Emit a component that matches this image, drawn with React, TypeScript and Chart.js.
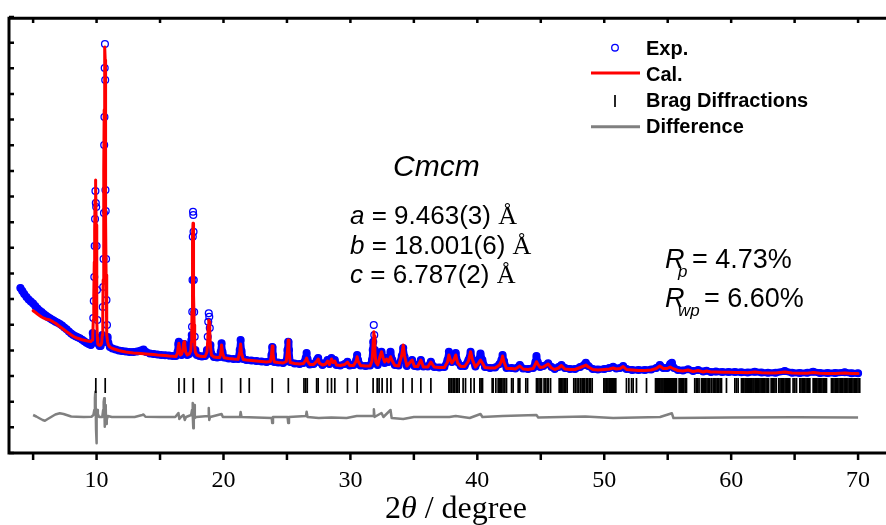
import React, { useEffect, useRef } from 'react';
import { Chart, registerables } from 'chart.js';

Chart.register(...registerables);

// ---------- data (2θ in degrees, intensity in counts) ----------
const twoTheta = [
  4.00, 4.15, 4.30, 4.48, 4.65, 4.82, 5.00, 5.17, 5.34, 5.50,
  5.67, 5.84, 6.00, 6.16, 6.32, 6.47, 6.62, 6.77, 6.94, 7.11,
  7.28, 7.46, 7.64, 7.82, 8.00, 8.16, 8.34, 8.51, 8.68, 8.86,
  9.03, 9.20, 9.38, 9.55, 9.65, 9.70, 9.74, 9.78, 9.82, 9.85,
  9.88, 9.91, 9.94, 9.97, 10.00, 10.03, 10.06, 10.10, 10.16, 10.24,
  10.32, 10.40, 10.45, 10.49, 10.52, 10.55, 10.58, 10.60, 10.62, 10.64,
  10.66, 10.68, 10.70, 10.72, 10.75, 10.78, 10.82, 10.87, 10.93, 11.05,
  11.25, 11.50, 11.75, 12.00, 12.30, 12.60, 12.90, 13.20, 13.50, 13.70,
  13.90, 14.20, 14.50, 14.80, 15.10, 15.40, 15.70, 16.00, 16.25, 16.38,
  16.44, 16.48, 16.53, 16.60, 16.70, 16.80, 16.86, 16.90, 16.95, 17.02,
  17.15, 17.30, 17.42, 17.47, 17.50, 17.52, 17.54, 17.56, 17.58, 17.60,
  17.62, 17.64, 17.66, 17.69, 17.73, 17.78, 17.90, 18.10, 18.30, 18.55,
  18.70, 18.76, 18.80, 18.84, 18.88, 18.92, 18.97, 19.05, 19.25, 19.50,
  19.70, 19.78, 19.85, 19.92, 20.05, 20.40, 20.80, 21.15, 21.28, 21.35,
  21.42, 21.55, 21.80, 22.20, 22.60, 23.00, 23.40, 23.70, 23.78, 23.84,
  23.90, 24.00, 24.30, 24.70, 24.95, 25.04, 25.10, 25.16, 25.25, 25.60,
  26.00, 26.30, 26.48, 26.55, 26.62, 26.80, 27.10, 27.36, 27.46, 27.55,
  27.80, 28.05, 28.20, 28.35, 28.51, 28.64, 28.77, 28.90, 29.20, 29.55,
  29.77, 29.95, 30.25, 30.46, 30.53, 30.60, 30.80, 31.20, 31.55, 31.70,
  31.76, 31.80, 31.84, 31.88, 31.93, 32.00, 32.15, 32.30, 32.45, 32.58,
  32.70, 32.85, 33.00, 33.16, 33.30, 33.50, 33.80, 34.05, 34.16, 34.27,
  34.45, 34.86, 35.05, 35.30, 35.55, 35.75, 36.10, 36.34, 36.60, 37.00,
  37.40, 37.65, 37.76, 37.88, 38.00, 38.15, 38.30, 38.45, 38.70, 39.00,
  39.30, 39.47, 39.62, 39.85, 40.05, 40.25, 40.40, 40.60, 41.00, 41.40,
  41.75, 41.90, 41.99, 42.10, 42.30, 42.70, 43.00, 43.35, 43.60, 44.00,
  44.40, 44.58, 44.66, 44.76, 44.95, 45.20, 45.58, 45.85, 46.10, 46.40,
  46.63, 46.90, 47.30, 47.70, 48.10, 48.40, 48.55, 48.75, 49.10, 49.50,
  50.00, 50.40, 50.70, 50.95, 51.25, 51.49, 51.75, 52.20, 52.70, 53.20,
  53.70, 54.10, 54.38, 54.65, 54.95, 55.20, 55.33, 55.50, 55.80, 56.20,
  56.60, 57.00, 57.40, 57.80, 58.06, 58.40, 58.80, 59.30, 59.80, 60.30,
  60.80, 61.30, 61.86, 62.40, 62.90, 63.50, 64.23, 64.80, 65.40, 66.00,
  66.46, 67.00, 67.60, 68.20, 68.95, 69.50, 70.00,
];

const yObs = [
  1650, 1620, 1590, 1560, 1535, 1515, 1495, 1470, 1445, 1425,
  1410, 1390, 1375, 1360, 1347, 1335, 1325, 1313, 1302, 1290,
  1275, 1255, 1237, 1215, 1195, 1180, 1167, 1157, 1147, 1133,
  1118, 1103, 1090, 1080, 1100, 1200, 1350, 1520, 1760, 2070,
  2340, 2620, 2500, 2460, 2070, 1630, 1330, 1150, 1090, 1070,
  1070, 1100, 1180, 1460, 1660, 1940, 2400, 3080, 3360, 3850,
  4090, 3730, 2630, 2420, 1940, 1530, 1280, 1160, 1100, 1060,
  1045, 1035, 1025, 1020, 1015, 1010, 1010, 1015, 1025, 1035,
  1010, 995, 990, 985, 980, 977, 974, 970, 970, 1010,
  1090, 1113, 1070, 1000, 980, 1020, 1080, 1090, 1050, 990,
  980, 990, 1030, 1130, 1180, 1263, 1413, 1730, 2163, 2413,
  2380, 2213, 1730, 1410, 1163, 1030, 980, 970, 965, 970,
  1030, 1163, 1313, 1397, 1363, 1250, 1080, 990, 960, 955,
  960, 1010, 1097, 1010, 955, 945, 940, 940, 1030, 1130,
  1020, 940, 930, 925, 920, 915, 910, 920, 980, 1060,
  980, 910, 905, 900, 920, 1030, 1113, 1030, 910, 895,
  890, 900, 950, 1000, 940, 885, 890, 930, 950, 910,
  880, 900, 930, 890, 950, 910, 930, 880, 875, 890,
  913, 875, 880, 930, 980, 930, 875, 870, 875, 930,
  1030, 1113, 1280, 1180, 1030, 910, 880, 950, 1013, 950,
  900, 950, 910, 1013, 930, 880, 875, 970, 1050, 960,
  870, 930, 870, 865, 930, 865, 865, 913, 860, 855,
  860, 930, 1013, 950, 910, 950, 1000, 910, 870, 870,
  930, 1013, 930, 865, 910, 995, 930, 860, 850, 855,
  890, 930, 980, 920, 850, 850, 845, 880, 845, 840,
  850, 910, 970, 910, 860, 870, 897, 860, 840, 860,
  880, 850, 840, 840, 860, 880, 903, 870, 840, 835,
  840, 850, 863, 845, 850, 870, 840, 830, 830, 830,
  835, 850, 880, 850, 850, 890, 903, 850, 830, 825,
  837, 820, 830, 815, 823, 810, 815, 810, 810, 810,
  807, 805, 813, 805, 803, 802, 820, 802, 800, 802,
  813, 800, 800, 800, 807, 798, 797,
];

const yCalc = [
  null, null, null, null, null, null, 1423, 1407, 1390, 1375,
  1360, 1348, 1340, 1335, 1330, 1320, 1308, 1297, 1280, 1263,
  1247, 1230, 1213, 1197, 1180, 1167, 1155, 1147, 1140, 1133,
  1128, 1123, 1118, 1114, 1130, 1170, 1330, 1570, 1910, 2230,
  2530, 2730, 2680, 2280, 1730, 1330, 1150, 1090, 1080, 1075,
  1080, 1100, 1180, 1430, 1730, 2230, 2830, 3430, 3830, 4030,
  4060, 3930, 3030, 2330, 1780, 1380, 1180, 1110, 1080, 1060,
  1045, 1035, 1025, 1018, 1010, 1005, 1000, 997, 994, 992,
  990, 987, 984, 980, 977, 974, 970, 967, 965, 1000,
  1070, 1097, 1050, 980, 990, 1030, 1100, 1113, 1080, 1010,
  980, 990, 1020, 1110, 1230, 1410, 1630, 1930, 2180, 2297,
  2270, 1930, 1580, 1280, 1080, 1010, 980, 970, 965, 965,
  1010, 1130, 1270, 1330, 1310, 1210, 1070, 980, 960, 955,
  955, 990, 1080, 1000, 952, 945, 940, 937, 1010, 1090,
  1000, 935, 930, 925, 920, 915, 910, 915, 980, 1070,
  990, 910, 905, 900, 915, 1020, 1130, 1030, 905, 895,
  890, 895, 930, 950, 920, 885, 885, 920, 940, 900,
  880, 890, 920, 885, 940, 905, 920, 880, 875, 885,
  910, 875, 875, 920, 963, 920, 875, 870, 870, 920,
  1010, 1130, 1213, 1170, 1010, 910, 880, 950, 1013, 950,
  910, 940, 910, 963, 920, 875, 870, 980, 1080, 970,
  870, 930, 865, 865, 930, 860, 860, 910, 860, 855,
  855, 910, 980, 930, 900, 930, 980, 900, 865, 865,
  920, 1013, 930, 860, 890, 930, 900, 855, 850, 850,
  880, 920, 970, 910, 845, 845, 840, 870, 840, 835,
  845, 890, 913, 890, 855, 860, 890, 850, 835, 850,
  875, 840, 835, 835, 855, 870, 880, 860, 835, 830,
  835, 840, 850, 840, 845, 865, 835, 830, 825, 825,
  830, 845, 870, 845, 845, 860, 850, 840, 825, 820,
  830, 815, 825, 810, 820, 810, 810, 807, 807, 805,
  804, 802, 810, 802, 800, 800, 810, 800, 798, 798,
  805, 797, 796, 796, 800, 795, 795,
];

const diffTheta = [
  5.00, 5.25, 5.53, 5.75, 5.93, 6.15, 6.45, 6.75, 7.10, 7.40,
  7.64, 8.00, 8.42, 9.00, 9.60, 9.75, 9.82, 9.87, 9.90, 9.93,
  9.96, 9.98, 10.00, 10.03, 10.06, 10.10, 10.20, 10.45, 10.52, 10.56,
  10.60, 10.63, 10.66, 10.69, 10.72, 10.75, 10.80, 10.88, 11.20, 12.00,
  13.00, 13.60, 13.70, 13.85, 15.00, 16.20, 16.45, 16.52, 16.65, 16.85,
  16.95, 17.05, 17.45, 17.52, 17.56, 17.59, 17.62, 17.66, 17.70, 17.74,
  17.85, 18.80, 18.84, 18.88, 18.95, 19.85, 19.95, 21.30, 21.35, 21.42,
  23.80, 23.84, 23.90, 25.05, 25.10, 25.16, 26.50, 26.55, 26.62, 27.50,
  28.50, 29.70, 30.50, 31.80, 31.85, 31.90, 32.45, 32.60, 33.16, 33.25,
  34.16, 35.00, 37.80, 38.30, 39.40, 40.25, 40.40, 42.00, 44.66, 44.80,
  48.50, 50.70, 54.40, 55.33, 55.45, 60.00, 65.00, 70.00,
];

const yDiff = [
  380, 365, 345, 330, 323, 340, 363, 385, 397, 390,
  380, 365, 363, 360, 363, 380, 430, 550, 613, 480,
  230, 97, 180, 350, 430, 390, 360, 360, 430, 510,
  547, 430, 263, 410, 480, 290, 330, 370, 360, 360,
  360, 380, 385, 363, 360, 360, 400, 340, 360, 380,
  330, 360, 380, 430, 500, 380, 247, 330, 480, 350,
  360, 370, 450, 330, 360, 390, 360, 360, 410, 360,
  350, 300, 360, 360, 300, 360, 370, 413, 360, 350,
  355, 350, 370, 370, 437, 360, 400, 360, 430, 350,
  340, 360, 360, 370, 350, 390, 360, 370, 380, 355,
  365, 350, 360, 397, 350, 355, 357, 355,
];

const braggPositions = [
  9.94, 10.68, 16.49, 16.91, 17.62, 18.88, 19.85, 21.35, 22.03, 23.84, 25.11,
  26.34, 26.47, 26.60, 27.34, 27.46, 28.20, 28.51, 28.77, 29.77, 30.53,
  31.79, 32.11, 32.26, 32.50, 32.89, 33.19, 34.15, 34.86, 35.55, 36.34,
  37.76, 37.85, 37.97, 38.09, 38.16, 38.23, 38.36, 38.45, 38.57, 38.88, 39.07,
  39.49, 39.75, 40.20, 40.30, 40.41, 41.17, 41.25, 41.46, 41.64, 41.72, 41.80,
  41.92, 42.03, 42.17, 42.30, 42.70, 42.82, 43.22, 43.35, 43.82, 43.96,
  44.66, 44.74, 44.86, 44.97, 45.06, 45.26, 45.36, 45.50, 45.60, 45.77,
  46.45, 46.55, 46.66, 46.75, 46.85, 46.97, 47.08, 47.60, 47.72, 47.86,
  48.00, 48.15, 48.26, 48.36, 48.47, 48.60, 48.70, 48.82, 48.92, 49.05,
  49.97, 50.06, 50.15, 50.22, 50.30, 50.40, 50.50, 50.58, 50.66, 50.75,
  50.83, 50.91, 51.75, 51.94, 52.15, 52.28, 52.54, 53.33,
  54.04, 54.13, 54.20, 54.30, 54.38, 54.47, 54.55, 54.63, 54.72, 54.80,
  54.88, 54.97, 55.05, 55.13, 55.22, 55.30, 55.38, 55.47, 55.55, 55.62,
  55.69, 55.90, 55.98, 56.08, 56.17, 56.27, 56.38, 56.48, 57.13, 57.25,
  57.36, 57.47, 57.66, 57.75, 57.83, 57.92, 58.00, 58.10, 58.20, 58.32,
  58.45, 58.58, 58.71, 58.80, 58.90, 59.02, 59.13, 59.24, 59.63, 60.29,
  60.42, 60.55, 60.81, 60.90, 61.00, 61.10, 61.18, 61.27, 61.36, 61.45,
  61.55, 61.63, 61.72, 61.80, 61.90, 62.00, 62.10, 62.18, 62.27, 62.36,
  62.45, 62.55, 62.65, 62.75, 62.85, 62.95, 63.15, 63.25, 63.35, 63.45,
  63.55, 63.75, 63.85, 63.95, 64.05, 64.15, 64.25, 64.35, 64.45, 64.53,
  64.62, 64.88, 65.02, 65.15, 65.41, 65.50, 65.60, 65.70, 65.80, 65.90,
  66.00, 66.10, 66.20, 66.46, 66.55, 66.65, 66.75, 66.85, 66.95, 67.05,
  67.15, 67.25, 67.35, 67.43, 67.51, 67.90, 68.00, 68.10, 68.20, 68.30,
  68.40, 68.50, 68.60, 68.70, 68.80, 68.90, 69.00, 69.10, 69.20, 69.30,
  69.40, 69.50, 69.60, 69.70, 69.80, 69.90, 70.00, 70.13,
];
const braggLevel = 675;

const seriesLabels = ['Exp.', 'Cal.', 'Brag Diffractions', 'Difference'];
const spaceGroup = 'Cmcm';
const latticeParams = [
  ['a', ' = 9.463(3) '],
  ['b', ' = 18.001(6) '],
  ['c', ' = 6.787(2) '],
];
const rFactors = [
  ['p', '= 4.73%'],
  ['wp', '= 6.60%'],
];

const X_MIN = 3.1;
const X_MAX = 72.2;
const Y_MAX = 4360;

const BLUE = '#0000ff';
const RED = '#ff0000';
const GRAY = '#808080';
const SANS = '"Liberation Sans", Arial, sans-serif';
const SERIF = '"Liberation Serif", "Times New Roman", serif';

function runs(ctx: CanvasRenderingContext2D, x: number, y: number, parts: [string, string][]) {
  for (const [text, font] of parts) {
    ctx.font = font;
    ctx.fillText(text, x, y);
    x += ctx.measureText(text).width;
  }
  return x;
}

const decorPlugin = {
  id: 'decor',
  afterDraw(chart: any) {
    const { ctx, chartArea: a } = chart;
    const xs = chart.scales.x;
    const ys = chart.scales.y;
    ctx.save();
    ctx.strokeStyle = '#000';
    ctx.fillStyle = '#000';
    ctx.lineCap = 'butt';

    // tick marks
    ctx.lineWidth = 2.5;
    ctx.beginPath();
    xs.ticks.forEach((t: any) => {
      if (t.value < X_MIN || t.value > X_MAX) return;
      const px = xs.getPixelForValue(t.value);
      ctx.moveTo(px, a.bottom);
      ctx.lineTo(px, a.bottom + 7);
      ctx.moveTo(px, a.top + 1);
      ctx.lineTo(px, a.top + 6);
    });
    ys.ticks.forEach((t: any) => {
      const py = ys.getPixelForValue(t.value);
      ctx.moveTo(a.left, py);
      ctx.lineTo(a.left + 5, py);
    });
    ctx.stroke();

    // frame: left, top, bottom (the right edge is cut off in the original)
    ctx.lineWidth = 3;
    ctx.beginPath();
    ctx.moveTo(a.right + 2, a.top + 1.3);
    ctx.lineTo(a.left, a.top + 1.3);
    ctx.lineTo(a.left, a.bottom);
    ctx.lineTo(a.right + 2, a.bottom);
    ctx.stroke();

    // legend
    const ds = chart.data.datasets;
    ctx.font = `bold 20px ${SANS}`;
    ctx.textBaseline = 'alphabetic';
    const tx = 646;
    ctx.strokeStyle = ds[1].pointBorderColor;
    ctx.lineWidth = 1.3;
    ctx.beginPath();
    ctx.arc(615, 47.7, 3.3, 0, Math.PI * 2);
    ctx.stroke();
    ctx.fillText(ds[1].label, tx, 55);
    ctx.strokeStyle = ds[0].borderColor;
    ctx.lineWidth = 3;
    ctx.beginPath();
    ctx.moveTo(591, 73);
    ctx.lineTo(640, 73);
    ctx.stroke();
    ctx.fillText(ds[0].label, tx, 81);
    ctx.strokeStyle = ds[2].pointBorderColor;
    ctx.lineWidth = 1.7;
    ctx.beginPath();
    ctx.moveTo(615, 95);
    ctx.lineTo(615, 107);
    ctx.stroke();
    ctx.fillText(ds[2].label, tx, 107);
    ctx.strokeStyle = ds[3].borderColor;
    ctx.lineWidth = 3;
    ctx.beginPath();
    ctx.moveTo(591, 126.7);
    ctx.lineTo(640, 126.7);
    ctx.stroke();
    ctx.fillText(ds[3].label, tx, 133);

    // annotations
    ctx.font = `italic 30px ${SANS}`;
    ctx.fillText(spaceGroup, 393, 176);
    latticeParams.forEach(([sym, val], i) => {
      runs(ctx, 350, 224 + i * 29.7, [
        [sym, `italic 26px ${SANS}`],
        [val, `26px ${SANS}`],
        ['Å', `26px ${SERIF}`],
      ]);
    });
    const rBase = [268.3, 306.7];
    const subX = [678, 678];
    const eqX = [692, 704];
    rFactors.forEach(([sub, val], i) => {
      ctx.font = `italic 27px ${SANS}`;
      ctx.fillText('R', 665, rBase[i]);
      ctx.font = `italic 17px ${SANS}`;
      ctx.fillText(sub, subX[i], rBase[i] + 9);
      ctx.font = `27px ${SANS}`;
      ctx.fillText(val, eqX[i], rBase[i]);
    });

    // x-axis title
    runs(ctx, 385, 518, [
      ['2', `32px ${SERIF}`],
      ['θ', `italic 32px ${SERIF}`],
      [' / degree', `32px ${SERIF}`],
    ]);
    ctx.restore();
  },
};

export default function App() {
  const ref = useRef<HTMLCanvasElement | null>(null);

  useEffect(() => {
    if (!ref.current) return;
    const obs = twoTheta.map((x, i) => ({ x, y: yObs[i] }));
    const calc = twoTheta.map((x, i) => ({ x, y: yCalc[i] }));
    const diff = diffTheta.map((x, i) => ({ x, y: yDiff[i] }));
    const bragg = braggPositions.map((x) => ({ x, y: braggLevel }));

    // observed points on the strong reflections are shown as separate circles only
    const hideSegment = (c: any) => {
      const d = c.chart.data.datasets[c.datasetIndex].data;
      const a = d[c.p0DataIndex];
      const b = d[c.p1DataIndex];
      const steep = Math.abs(c.p1.y - c.p0.y) > 12;
      const strong = a.x > 9.6 && Math.max(a.y, b.y) > 1200;
      return steep || strong;
    };

    const chart = new Chart(ref.current, {
      type: 'scatter',
      data: {
        datasets: [
          {
            label: seriesLabels[1],
            data: calc,
            showLine: true,
            borderColor: RED,
            borderWidth: 3,
            borderJoinStyle: 'round',
            borderCapStyle: 'round',
            pointRadius: 0,
            order: 0,
          },
          {
            label: seriesLabels[0],
            data: obs,
            showLine: true,
            borderColor: BLUE,
            borderWidth: 7,
            borderJoinStyle: 'round',
            borderCapStyle: 'round',
            segment: {
              borderColor: (c: any) => (hideSegment(c) ? 'rgba(0,0,255,0)' : BLUE),
            },
            pointRadius: 3.4,
            pointBorderWidth: 1.3,
            pointBorderColor: BLUE,
            pointBackgroundColor: 'rgba(0,0,0,0)',
            order: 1,
          },
          {
            label: seriesLabels[2],
            data: bragg,
            showLine: false,
            pointStyle: 'line',
            rotation: 90,
            pointRadius: 7.5,
            pointBorderWidth: 1.7,
            pointBorderColor: '#000',
            order: 2,
          },
          {
            label: seriesLabels[3],
            data: diff,
            showLine: true,
            borderColor: GRAY,
            borderWidth: 2.5,
            borderJoinStyle: 'round',
            pointRadius: 0,
            order: 3,
          },
        ] as any,
      },
      options: {
        animation: false,
        responsive: false,
        devicePixelRatio: 1,
        events: [],
        layout: { autoPadding: false, padding: { left: 9, top: 17, right: 0, bottom: 0 } },
        plugins: { legend: { display: false }, tooltip: { enabled: false } },
        scales: {
          x: {
            type: 'linear',
            min: X_MIN,
            max: X_MAX,
            grid: { display: false, drawTicks: false },
            border: { display: false },
            ticks: {
              stepSize: 5,
              includeBounds: false,
              autoSkip: false,
              maxRotation: 0,
              padding: 13,
              color: '#000',
              font: { family: SERIF, size: 24 },
              callback: (v: any) => (Number(v) % 10 === 0 ? String(v) : ''),
            },
            afterFit: (s: any) => {
              s.height = 72;
            },
          },
          y: {
            type: 'linear',
            display: false,
            min: 0,
            max: Y_MAX,
            ticks: { count: 18 },
            grid: { display: false },
          },
        },
      } as any,
      plugins: [decorPlugin],
    });
    return () => chart.destroy();
  }, []);

  return (
    <div
      style={{
        position: 'fixed',
        left: 0,
        top: 0,
        width: 886,
        height: 525,
        overflow: 'hidden',
        background: '#fff',
      }}
    >
      <canvas ref={ref} width={886} height={525} style={{ display: 'block' }} />
    </div>
  );
}
